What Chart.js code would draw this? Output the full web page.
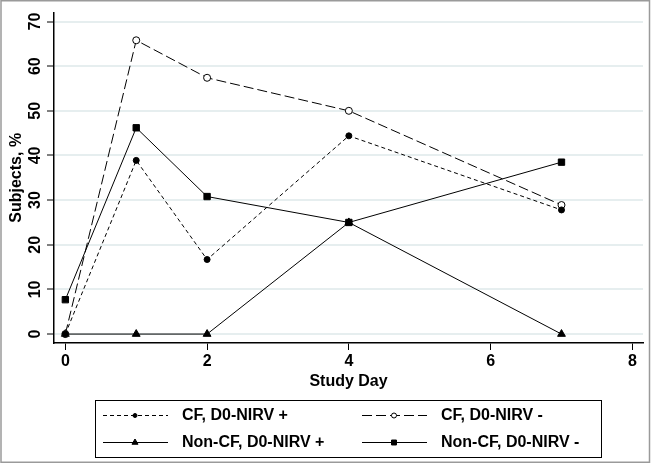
<!DOCTYPE html>
<html>
<head>
<meta charset="utf-8">
<title>Subjects by study day</title>
<script src="https://cdn.jsdelivr.net/npm/chart.js"></script>
<style>
  html, body { margin: 0; padding: 0; background: #fff; }
  canvas { display: block; }
</style>
</head>
<body>
<canvas id="myChart" width="652" height="463"></canvas>
<script>
const studyDays = [0, 1, 2, 4, 7];
const seriesNames = ['CF, D0-NIRV +', 'CF, D0-NIRV -', 'Non-CF, D0-NIRV +', 'Non-CF, D0-NIRV -'];
const cfPos = [0, 38.9, 16.7, 44.4, 27.8];
const cfNeg = [0, 65.8, 57.4, 50.0, 28.9];
const nonCfPos = [0, 0, 0, 25.0, 0];
const nonCfNeg = [7.7, 46.2, 30.8, 25.0, 38.5];
const xTicks = [0, 2, 4, 6, 8];
const yTicks = [0, 10, 20, 30, 40, 50, 60, 70];

const FONT = "'Liberation Sans', Arial, Helvetica, sans-serif";
const TXT = { family: FONT, size: 16, weight: 'bold' };

function points(vals) {
    return studyDays.map((d, i) => ({ x: d, y: vals[i] }));
}

function series(label, vals, dash, style, radius, fill) {
    return {
        label: label,
        data: points(vals),
        borderColor: '#000',
        borderWidth: 1,
        borderDash: dash,
        pointStyle: style,
        pointRadius: radius,
        pointBackgroundColor: fill,
        pointBorderColor: '#000',
        pointBorderWidth: 1,
        tension: 0,
        fill: false
    };
}

// white page + grey frame + the two-column legend box under the plot
const frameAndLegend = {
    id: 'frameAndLegend',
    beforeDraw(chart) {
        const c = chart.ctx;
        c.save();
        c.fillStyle = '#fff';
        c.fillRect(0, 0, chart.width, chart.height);
        c.restore();
    },
    afterDraw(chart) {
        const c = chart.ctx;
        c.save();
        c.strokeStyle = '#000';
        c.lineWidth = 1;
        c.strokeRect(95.5, 400.5, 506, 57);

        const cols = [103, 362];
        const rows = [415, 442];
        chart.data.datasets.forEach((ds, i) => {
            const x0 = cols[i % 2];
            const y = rows[Math.floor(i / 2)];
            c.strokeStyle = '#000';
            c.lineWidth = 1;
            c.setLineDash(ds.borderDash);
            c.beginPath();
            c.moveTo(x0, y + 0.5);
            c.lineTo(x0 + 65, y + 0.5);
            c.stroke();
            c.setLineDash([]);
            c.fillStyle = ds.pointBackgroundColor;
            Chart.helpers.drawPoint(c, {
                pointStyle: ds.pointStyle,
                radius: ds.pointRadius - 1,
                rotation: 0,
                borderWidth: 1
            }, x0 + 32, y + 0.5);
            c.fillStyle = '#000';
            c.font = 'bold 16px ' + FONT;
            c.textBaseline = 'middle';
            c.fillText(ds.label, x0 + 79, y + 1);
        });

        c.strokeStyle = '#9a9a9a';
        c.lineWidth = 1.5;
        c.strokeRect(1, 0.75, 648.5, 461.5);
        c.restore();
    }
};

const ctx = document.getElementById('myChart').getContext('2d');
const myChart = new Chart(ctx, {
    type: 'line',
    data: {
        datasets: [
            series(seriesNames[0], cfPos, [4, 3], 'circle', 3, '#000'),
            series(seriesNames[1], cfNeg, [10, 4], 'circle', 3.5, '#fff'),
            series(seriesNames[2], nonCfPos, [], 'triangle', 4.5, '#000'),
            series(seriesNames[3], nonCfNeg, [], 'rect', 4.5, '#000')
        ]
    },
    options: {
        responsive: false,
        animation: false,
        devicePixelRatio: 1,
        layout: {
            padding: { left: 0, right: 9, top: 7, bottom: 72 }
        },
        plugins: {
            legend: { display: false },
            tooltip: { enabled: false }
        },
        scales: {
            x: {
                type: 'linear',
                min: -0.16,
                max: 8.15,
                afterBuildTicks: s => { s.ticks = xTicks.map(v => ({ value: v })); },
                afterFit: s => { s.height = 48; },
                border: { color: '#000', width: 1.5 },
                grid: { drawOnChartArea: false, tickColor: '#000', tickWidth: 1, tickLength: 7 },
                ticks: { padding: 2, maxRotation: 0, color: '#000', font: TXT },
                title: {
                    display: true,
                    text: 'Study Day',
                    color: '#000',
                    padding: 0,
                    font: TXT
                }
            },
            y: {
                type: 'linear',
                min: -2.0,
                max: 72.0,
                afterBuildTicks: s => { s.ticks = yTicks.map(v => ({ value: v })); },
                afterFit: s => { s.width = 54; },
                border: { color: '#000', width: 1.5 },
                grid: { color: '#e6eeef', lineWidth: 2, tickColor: '#000', tickWidth: 1, tickLength: 7 },
                ticks: {
                    minRotation: 90,
                    maxRotation: 90,
                    crossAlign: 'center',
                    padding: 3,
                    color: '#000',
                    font: TXT
                },
                title: {
                    display: true,
                    text: 'Subjects, %',
                    color: '#000',
                    padding: { top: 7, bottom: 0 },
                    font: TXT
                }
            }
        }
    },
    plugins: [frameAndLegend]
});
</script>
</body>
</html>
